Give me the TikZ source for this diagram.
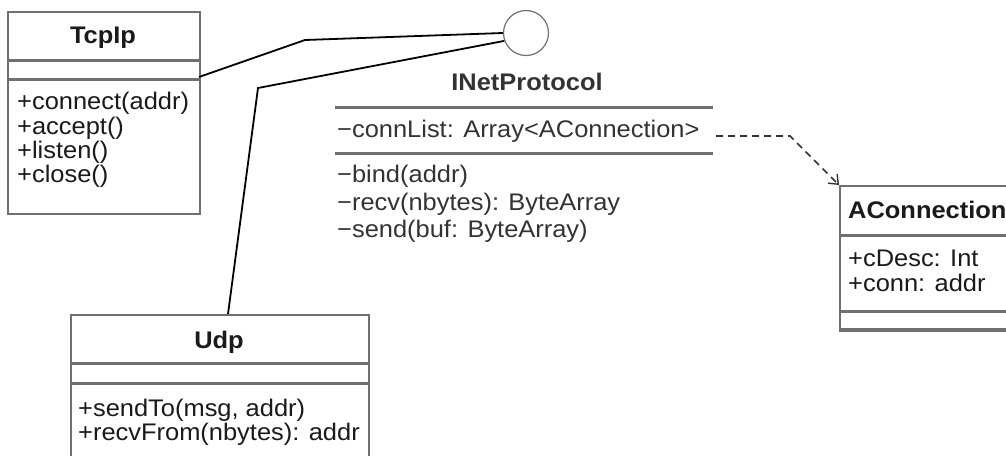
\documentclass[tikz,border=0pt]{standalone}
\usepackage{fontspec}
\setmainfont{Liberation Sans}[FakeStretch=1.06]
\usetikzlibrary{arrows.meta}
\definecolor{edge}{HTML}{707070}
\definecolor{ink}{HTML}{1A1A1A}
\definecolor{soft}{HTML}{333333}
\tikzset{
  umlbox/.style={draw=edge, line width=2pt, rectangle, inner sep=0pt, anchor=north west},
  divider/.style={draw=edge, line width=3pt},
  member/.style={anchor=base west, inner sep=0pt, text=ink, font=\fontsize{24}{24}\selectfont},
  title/.style={anchor=base, inner sep=0pt, text=ink, font=\fontsize{24}{24}\selectfont\bfseries},
  ifacemember/.style={member, text=soft},
  link/.style={draw=black, line width=1.8pt},
  depend/.style={draw=black!80, line width=1.6pt, dash pattern=on 7pt off 5pt,
    -{Straight Barb[length=8pt,width=13pt,line width=1.4pt]}},
}
\begin{document}
\begin{tikzpicture}[x=1pt,y=-1pt]
\clip (0,0) rectangle (1006,455);
\fill[white] (0,0) rectangle (1006,455);

% TcpIp class
\node[umlbox, minimum width=192pt, minimum height=202pt] (tcpip) at (7,11) {};
\draw[divider] (7,60) -- (199,60);
\draw[divider] (7,79) -- (199,79);
\node[title] (tcptitle) at (103,43) {TcpIp};
\node[member] (tcpm1) at (17,109) {+connect(addr)};
\node[member] (tcpm2) at (17,134) {+accept()};
\node[member] (tcpm3) at (17,158) {+listen()};
\node[member] (tcpm4) at (17,182) {+close()};

% Udp class
\node[umlbox, minimum width=298pt, minimum height=170pt] (udp) at (70,314) {};
\draw[divider] (70,363) -- (368,363);
\draw[divider] (70,383) -- (368,383);
\node[title] (udptitle) at (219,348) {Udp};
\node[member] (udpm1) at (78,416) {+sendTo(msg, addr)};
\node[member] (udpm2) at (78,440) {+recvFrom(nbytes): addr};

% AConnection class
\node[umlbox, minimum width=190pt, minimum height=145pt] (aconn) at (839,185) {};
\draw[divider] (839,235) -- (1010,235);
\draw[divider] (839,311) -- (1010,311);
\draw[divider] (839,329) -- (1010,329);
\node[member, font=\fontsize{24}{24}\selectfont\bfseries] (acontitle) at (848,218) {AConnection};
\node[member] (aconm1) at (848,266) {+cDesc: Int};
\node[member] (aconm2) at (848,291) {+conn: addr};

% INetProtocol interface
\node[circle, draw=edge, line width=1.2pt, minimum size=45pt, inner sep=0pt] (inet) at (526,33) {};
\node[anchor=base, inner sep=0pt, text=soft, font=\fontsize{24}{24}\selectfont\bfseries] (inettitle) at (527,90) {INetProtocol};
\draw[divider] (335,107) -- (713,107);
\draw[divider] (335,153) -- (713,153);
\node[ifacemember] (inetattr) at (337,137) {−connList: Array<AConnection>};
\node[ifacemember] (inetm1) at (337,182) {−bind(addr)};
\node[ifacemember] (inetm2) at (337,210) {−recv(nbytes): ByteArray};
\node[ifacemember] (inetm3) at (337,237) {−send(buf: ByteArray)};

% realisation links to the interface
\coordinate (tcpout) at (199,77);
\coordinate (tcpbend) at (305,40);
\coordinate (udpbend) at (258,88);
\coordinate (udpin) at (228,314);
\draw[link] (tcpout) -- (tcpbend) -- (inet.west);
\draw[link] (udpin) -- (udpbend) -- (inet.200);

% dependency on AConnection
\coordinate (attrend) at (716,136);
\coordinate (depbend) at (790,136);
\draw[depend] (attrend) -- (depbend) -- (aconn.north west);
\end{tikzpicture}
\end{document}
